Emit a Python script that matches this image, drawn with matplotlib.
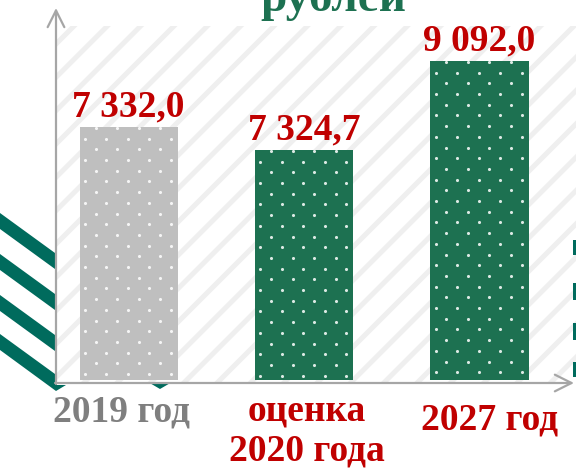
import numpy as np
import matplotlib.pyplot as plt
from matplotlib.patches import Rectangle, Polygon

plt.rcParams['font.family'] = ['Liberation Serif', 'DejaVu Serif']
plt.rcParams['hatch.linewidth'] = 3.6

categories = ['2019 год', 'оценка\n2020 года', '2027 год']
values = [7332.0, 7324.7, 9092.0]
value_labels = ['7 332,0', '7 324,7', '9 092,0']
# heights as drawn on the slide (the bars are not to scale with the values)
drawn_heights = [253, 230, 319]

green = '#1D7151'
teal = '#006B5D'
red = '#C00000'
bar_colors = ['#BFBFBF', green, green]
cat_colors = ['#7F7F7F', red, red]

W, H = 576, 469
fig = plt.figure(figsize=(W / 100, H / 100), dpi=100)

# plot area, 1 y unit = 1 px, one category step = 175.5 px
base = 383
ax = fig.add_axes([57 / W, (H - base) / H, 519 / W, (base - 26) / H])
step = 175.5
x0 = -71.5 / step
ax.set_xlim(x0, x0 + 519 / step)
ax.set_ylim(-3, base - 26 - 3)
ax.axis('off')
ax.add_patch(Rectangle((0, 0), 1, 1, transform=ax.transAxes, facecolor='white',
                       edgecolor='#EFEFEF', hatch='/', linewidth=0, zorder=0))

x = np.arange(len(categories))
bw = 98 / step
ax.bar(x, drawn_heights, width=bw, color=bar_colors, zorder=2)

# white dot texture on the bars
for xi, h in zip(x, drawn_heights):
    left = (xi - bw / 2) * step
    right = (xi + bw / 2) * step
    for k, yy in enumerate(np.arange(h - 1, 2, -10.7)):
        start = 16 if k % 2 == 0 else 5.3
        xs = np.arange(left + start, right - 3, 21.5) / step
        ax.scatter(xs, np.full(len(xs), yy), s=5, color='white', alpha=0.85,
                   linewidths=0, zorder=3)

for xi, h, lab in zip(x, drawn_heights, value_labels):
    ax.text(xi, h + 11, lab, ha='center', va='baseline', fontsize=27,
            fontweight='bold', color=red)

# baseline of the last line of each label
label_dx = [-7, 3, 10]
label_y = [-41, -80, -49]
for xi, cat, c, dx, dy in zip(x, categories, cat_colors, label_dx, label_y):
    ax.text(xi + dx / step, dy, cat, ha='center', va='baseline', fontsize=27,
            fontweight='bold', color=c, linespacing=1.15, clip_on=False)

# decoration layer in pixel coordinates
deco = fig.add_axes([0, 0, 1, 1], zorder=5)
deco.set_xlim(0, W)
deco.set_ylim(H, 0)
deco.axis('off')
deco.patch.set_alpha(0)

fig.text(333 / W, 1 - 11 / H, 'рублей', ha='center', va='baseline', fontsize=34,
         fontweight='bold', color=green)

arrow = dict(arrowstyle='->,head_length=1.2,head_width=0.6', color='#A6A6A6',
             lw=1.6, shrinkA=0, shrinkB=0)
deco.annotate('', xy=(56, 8), xytext=(56, base + 1), arrowprops=arrow)
deco.annotate('', xy=(574, base), xytext=(55, base), arrowprops=arrow)

for y0 in [213, 254, 295]:
    deco.add_patch(Polygon([(0, y0), (55, y0 + 40), (55, y0 + 56), (0, y0 + 16)],
                           closed=True, color=teal, linewidth=0))
deco.add_patch(Polygon([(0, 334), (55, 374), (57, 385), (66, 385), (56, 391), (0, 350)],
                       closed=True, color=teal, linewidth=0))
deco.add_patch(Polygon([(148, base - 1), (172, base - 1), (160, base + 6)],
                       closed=True, color=teal, linewidth=0))
for ya, yb in [(240, 255), (283, 300), (323, 340), (362, 377)]:
    deco.add_patch(Rectangle((573, ya), 4, yb - ya, color=teal, linewidth=0))

fig.savefig('out.png', dpi=100)
